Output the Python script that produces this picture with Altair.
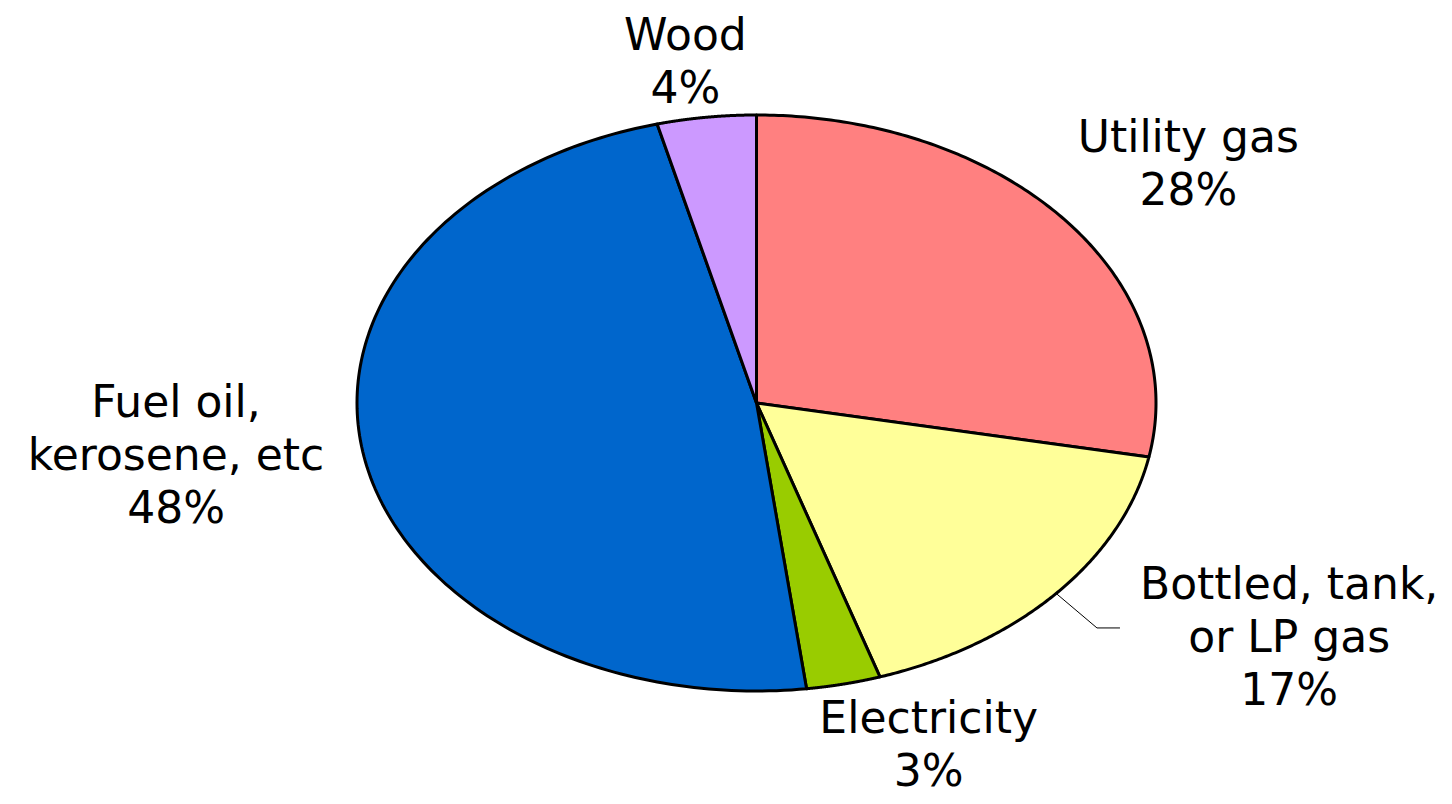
import altair as alt
import pandas as pd

# ---- data ----
categories = ["Utility gas", "Bottled, tank,\nor LP gas", "Electricity",
              "Fuel oil,\nkerosene, etc", "Wood"]
values = [28, 17, 3, 48, 4]
colors = ["#FF8080", "#FFFF99", "#99CC00", "#0066CC", "#CC99FF"]

# ---- layout / style (not data) ----
N = 160  # arc resolution (points per slice)
W, H = 1436, 788
X_DOMAIN = [-1.8736, 1.7209]   # unit ellipse mapped to 399.5 px horizontally
Y_DOMAIN = [-1.3646, 1.3715]   # unit ellipse mapped to 288 px vertically
FONT = "DejaVu Sans"
FONT_SIZE = 44
LINE_HEIGHT = 53
# label nudges (px) from the slice's mid-angle point on the rim
LABEL_NUDGE = {
    "Utility gas": (124, -67),
    "Bottled, tank,\nor LP gas": (233, 6),
    "Electricity": (85, 49),
    "Fuel oil,\nkerosene, etc": (-188, -40),
    "Wood": (-21, -67),
}
LEADER_FOR = "Bottled, tank,\nor LP gas"
LEADER_ELBOW = (40.8 / 399.5, -34.5 / 288)   # data units
LEADER_TAIL = 23 / 399.5

df = pd.DataFrame({"category": categories, "value": values,
                   "idx": list(range(len(categories)))})
df["steps"] = [list(range(N + 3))] * len(df)

xs = alt.Scale(domain=X_DOMAIN, nice=False, zero=False)
ys = alt.Scale(domain=Y_DOMAIN, nice=False, zero=False)

base = (
    alt.Chart(df)
    .transform_joinaggregate(total="sum(value)")
    .transform_window(cum="sum(value)", sort=[alt.SortField("idx")], frame=[None, 0])
    .transform_calculate(
        a0="2*PI*(datum.cum-datum.value)/datum.total",
        a1="2*PI*datum.cum/datum.total",
        mid="PI*(2*datum.cum-datum.value)/datum.total",
    )
    .transform_calculate(
        ex="sin(datum.mid)",
        ey="cos(datum.mid)",
        label="datum.category + '\\n' + format(100*datum.value/datum.total, '.0f') + '%'",
    )
)

pie = (
    base.transform_flatten(["steps"], as_=["step"])
    .transform_calculate(
        t=f"clamp((datum.step-1)/{N}, 0, 1)",
    )
    .transform_calculate(
        ang="datum.a0 + (datum.a1-datum.a0)*datum.t",
        rim=f"datum.step > 0 && datum.step < {N + 2}",
    )
    .transform_calculate(
        px="datum.rim ? sin(datum.ang) : 0",
        py="datum.rim ? cos(datum.ang) : 0",
    )
    .mark_line(filled=True, stroke="black", strokeWidth=3, strokeJoin="round")
    .encode(
        x=alt.X("px:Q", scale=xs, axis=None),
        y=alt.Y("py:Q", scale=ys, axis=None),
        color=alt.Color("category:N", scale=alt.Scale(domain=categories, range=colors),
                        legend=None),
        order=alt.Order("step:Q"),
        detail="category:N",
    )
)

leader_base = base.transform_filter(alt.datum.category == LEADER_FOR).transform_calculate(
    bx=f"datum.ex + {LEADER_ELBOW[0]}",
    by=f"datum.ey + {LEADER_ELBOW[1]}",
).transform_calculate(
    cx=f"datum.bx + {LEADER_TAIL}",
)
leader1 = leader_base.mark_rule(color="black", strokeWidth=1).encode(
    x=alt.X("ex:Q", scale=xs, axis=None), y=alt.Y("ey:Q", scale=ys, axis=None),
    x2="bx:Q", y2="by:Q",
)
leader2 = leader_base.mark_rule(color="black", strokeWidth=1).encode(
    x=alt.X("bx:Q", scale=xs, axis=None), y=alt.Y("by:Q", scale=ys, axis=None),
    x2="cx:Q",
)

labels = []
for c in categories:
    dx, dy = LABEL_NUDGE[c]
    labels.append(
        base.transform_filter(alt.datum.category == c)
        .mark_text(font=FONT, fontSize=FONT_SIZE, lineHeight=LINE_HEIGHT, lineBreak="\n",
                   align="center", baseline="alphabetic", dx=dx, dy=dy, color="black")
        .encode(
            x=alt.X("ex:Q", scale=xs, axis=None),
            y=alt.Y("ey:Q", scale=ys, axis=None),
            text="label:N",
        )
    )

chart = (
    alt.layer(pie, leader1, leader2, *labels)
    .properties(width=W, height=H, padding=0, autosize="none", background="white")
    .configure_view(stroke=None)
)

chart.save("out.html", embed_options={"renderer": "svg", "actions": False})
